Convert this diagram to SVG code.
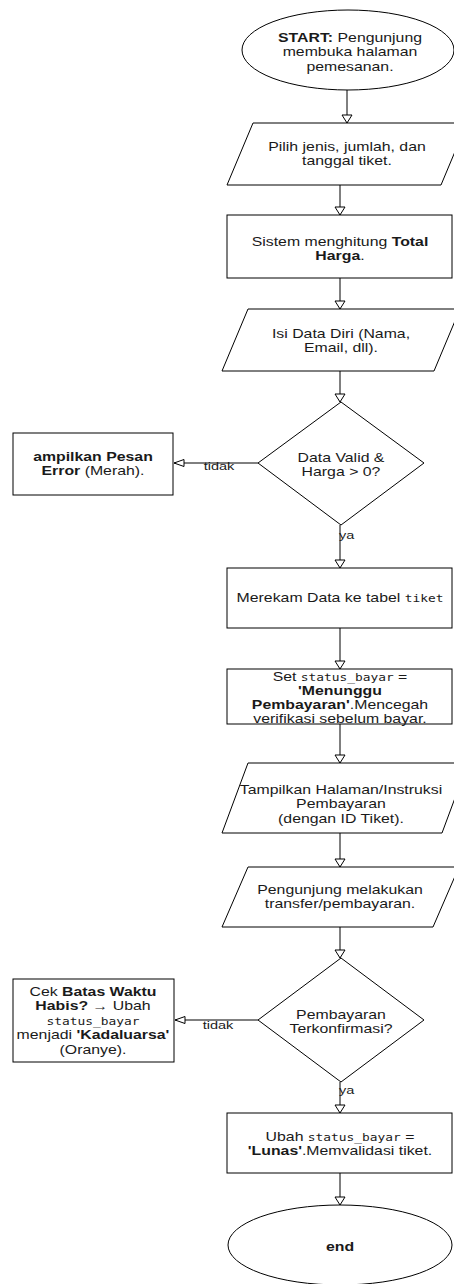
<svg xmlns="http://www.w3.org/2000/svg" width="454" height="1284" viewBox="0 0 454 1284">
<style>
.s{fill:#fff;stroke:#000;stroke-width:1}
.t{font-family:"Liberation Sans",Arial,sans-serif;font-size:12px;fill:#1a1a1a;text-anchor:middle}
.b{font-weight:bold}
.m{font-family:"DejaVu Sans Mono","Liberation Mono",monospace;font-size:9.75px}
.l{font-family:"Liberation Sans",Arial,sans-serif;font-size:11px;fill:#1a1a1a}
.e{fill:none;stroke:#000;stroke-width:1}
.v{marker-end:url(#av)}
.h{marker-end:url(#ah)}
</style>
<defs>
<marker id="av" markerUnits="userSpaceOnUse" viewBox="-1 -1 11 12" markerWidth="11" markerHeight="12" refX="8" refY="5" orient="auto"><path d="M0,0 L8,5 L0,10 Z" fill="#fff" stroke="#000"/></marker>
<marker id="ah" markerUnits="userSpaceOnUse" viewBox="-1 -1 12 9" markerWidth="12" markerHeight="9" refX="10" refY="3.5" orient="auto"><path d="M0,0 L10,3.5 L0,7 Z" fill="#fff" stroke="#000"/></marker>
</defs>
<g id="connectors">
<line class="e v" x1="347" y1="90" x2="347" y2="123"/>
<line class="e v" x1="340" y1="185" x2="340" y2="215"/>
<line class="e v" x1="340" y1="278" x2="340" y2="309"/>
<line class="e v" x1="340" y1="371" x2="340" y2="402"/>
<line class="e h" x1="258" y1="463" x2="174" y2="463"/>
<line class="e v" x1="340" y1="525" x2="340" y2="568"/>
<line class="e v" x1="340" y1="628" x2="340" y2="669"/>
<line class="e v" x1="340" y1="724" x2="340" y2="763"/>
<line class="e v" x1="340" y1="833" x2="340" y2="867"/>
<line class="e v" x1="340" y1="927" x2="340" y2="958"/>
<line class="e h" x1="258" y1="1020" x2="175" y2="1020"/>
<line class="e v" x1="340" y1="1082" x2="340" y2="1113"/>
<line class="e v" x1="340" y1="1173" x2="340" y2="1205"/>
<text class="l" transform="translate(219 0) scale(1.32 1)" x="0" y="470.5" text-anchor="middle">tidak</text>
<text class="l" transform="translate(339 0) scale(1.32 1)" x="0" y="539">ya</text>
<text class="l" transform="translate(218 0) scale(1.32 1)" x="0" y="1029" text-anchor="middle">tidak</text>
<text class="l" transform="translate(339 0) scale(1.32 1)" x="0" y="1094">ya</text>
</g>
<g id="start">
<ellipse class="s" cx="348" cy="50" rx="106" ry="40"/>
<text class="t" transform="translate(350 0) scale(1.32 1)" x="0" y="42"><tspan class="b">START:</tspan> Pengunjung</text>
<text class="t" transform="translate(350 0) scale(1.32 1)" x="0" y="56.4">membuka halaman</text>
<text class="t" transform="translate(350 0) scale(1.32 1)" x="0" y="70.8">pemesanan.</text>
</g>
<g id="pilih">
<polygon class="s" points="253,123 467,123 441,185 227,185"/>
<text class="t" transform="translate(347 0) scale(1.32 1)" x="0" y="151">Pilih jenis, jumlah, dan</text>
<text class="t" transform="translate(347 0) scale(1.32 1)" x="0" y="165.4">tanggal tiket.</text>
</g>
<g id="hitung">
<rect class="s" x="227" y="215" width="225" height="63"/>
<text class="t" transform="translate(340 0) scale(1.32 1)" x="0" y="246">Sistem menghitung <tspan class="b">Total</tspan></text>
<text class="t" transform="translate(340 0) scale(1.32 1)" x="0" y="260.4"><tspan class="b">Harga</tspan>.</text>
</g>
<g id="datadiri">
<polygon class="s" points="248,309 460,309 434,371 222,371"/>
<text class="t" transform="translate(341 0) scale(1.32 1)" x="0" y="338">Isi Data Diri (Nama,</text>
<text class="t" transform="translate(341 0) scale(1.32 1)" x="0" y="352.4">Email, dll).</text>
</g>
<g id="valid">
<polygon class="s" points="341,402 424,463 341,525 258,463"/>
<text class="t" transform="translate(341 0) scale(1.32 1)" x="0" y="462">Data Valid &amp;</text>
<text class="t" transform="translate(341 0) scale(1.32 1)" x="0" y="476.4">Harga &gt; 0?</text>
</g>
<g id="error">
<rect class="s" x="13" y="433" width="160" height="62"/>
<text class="t" transform="translate(93 0) scale(1.32 1)" x="0" y="461"><tspan class="b">ampilkan Pesan</tspan></text>
<text class="t" transform="translate(93 0) scale(1.32 1)" x="0" y="475.4"><tspan class="b">Error</tspan> (Merah).</text>
</g>
<g id="rekam">
<rect class="s" x="227" y="568" width="225" height="60"/>
<text class="t" transform="translate(340 0) scale(1.32 1)" x="0" y="602">Merekam Data ke tabel <tspan class="m">tiket</tspan></text>
</g>
<g id="setstatus">
<rect class="s" x="227" y="669" width="225" height="55"/>
<text class="t" transform="translate(340 0) scale(1.32 1)" x="0" y="681">Set <tspan class="m">status_bayar</tspan> =</text>
<text class="t" transform="translate(340 0) scale(1.32 1)" x="0" y="695"><tspan class="b">'Menunggu</tspan></text>
<text class="t" transform="translate(340 0) scale(1.32 1)" x="0" y="709"><tspan class="b">Pembayaran'</tspan>.Mencegah</text>
<text class="t" transform="translate(340 0) scale(1.32 1)" x="0" y="723">verifikasi sebelum bayar.</text>
</g>
<g id="instruksi">
<polygon class="s" points="248,763 468,763 442,833 222,833"/>
<text class="t" transform="translate(341 0) scale(1.32 1)" x="0" y="794">Tampilkan Halaman/Instruksi</text>
<text class="t" transform="translate(341 0) scale(1.32 1)" x="0" y="808.4">Pembayaran</text>
<text class="t" transform="translate(341 0) scale(1.32 1)" x="0" y="822.8">(dengan ID Tiket).</text>
</g>
<g id="transfer">
<polygon class="s" points="248,867 459,867 433,927 222,927"/>
<text class="t" transform="translate(340 0) scale(1.32 1)" x="0" y="894">Pengunjung melakukan</text>
<text class="t" transform="translate(340 0) scale(1.32 1)" x="0" y="908.4">transfer/pembayaran.</text>
</g>
<g id="konfirmasi">
<polygon class="s" points="341,958 424,1020 341,1082 258,1020"/>
<text class="t" transform="translate(341 0) scale(1.32 1)" x="0" y="1019">Pembayaran</text>
<text class="t" transform="translate(341 0) scale(1.32 1)" x="0" y="1033.4">Terkonfirmasi?</text>
</g>
<g id="kadaluarsa">
<rect class="s" x="13" y="979" width="161" height="83"/>
<text class="t" transform="translate(93 0) scale(1.32 1)" x="0" y="996">Cek <tspan class="b">Batas Waktu</tspan></text>
<text class="t" transform="translate(93 0) scale(1.32 1)" x="0" y="1010.4"><tspan class="b">Habis?</tspan> → Ubah</text>
<text class="t" transform="translate(93 0) scale(1.32 1)" x="0" y="1024.8"><tspan class="m">status_bayar</tspan></text>
<text class="t" transform="translate(93 0) scale(1.32 1)" x="0" y="1039.2">menjadi <tspan class="b">'Kadaluarsa'</tspan></text>
<text class="t" transform="translate(93 0) scale(1.32 1)" x="0" y="1053.6">(Oranye).</text>
</g>
<g id="lunas">
<rect class="s" x="227" y="1113" width="225" height="60"/>
<text class="t" transform="translate(340 0) scale(1.32 1)" x="0" y="1141">Ubah <tspan class="m">status_bayar</tspan> =</text>
<text class="t" transform="translate(340 0) scale(1.32 1)" x="0" y="1155.4"><tspan class="b">'Lunas'</tspan>.Memvalidasi tiket.</text>
</g>
<g id="end">
<ellipse class="s" cx="340" cy="1245" rx="112" ry="40"/>
<text class="t" transform="translate(340 0) scale(1.32 1)" x="0" y="1251"><tspan class="b">end</tspan></text>
</g>
</svg>
